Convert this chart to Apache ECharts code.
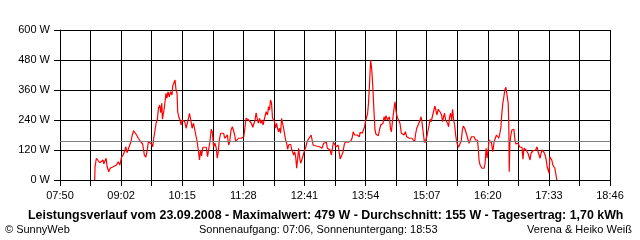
<!DOCTYPE html>
<html>
<head>
<meta charset="utf-8">
<script src="https://cdn.jsdelivr.net/npm/echarts@6/dist/echarts.min.js"></script>
<style>
html,body{margin:0;padding:0;background:#fff;}
#chart{width:640px;height:240px;}
</style>
</head>
<body>
<div id="chart"></div>
<script>
// X-axis tick labels (every second tick is labelled)
const tickLabels = ["07:50","09:02","10:15","11:28","12:41","13:54","15:07","16:20","17:33","18:46"];
const axisStartMinute = 470;   // 07:50
const axisEndMinute = 1126;    // 18:46
const tickCount = 18;
const yTicks = [0, 120, 240, 360, 480, 600];
const averageWatts = 155;

const headline = "Leistungsverlauf vom 23.09.2008 - Maximalwert: 479 W - Durchschnitt: 155 W - Tagesertrag: 1,70 kWh";
const footerLeft = "\u00A9 SunnyWeb";
const footerMid = "Sonnenaufgang: 07:06, Sonnenuntergang: 18:53";
const footerRight = "Verena & Heiko Wei\u00DF";

// [minute of day, power in W]
const powerSamples = [
[511.4,0],[511.8,53],[513.4,87],[515.0,85],[517.4,69],[519.4,67],[521.4,80],[522.2,64],[523.4,67],[525.0,87],
[526.2,53],[528.2,33],[529.8,47],[531.4,40],[533.4,53],[535.4,47],[537.4,60],[539.4,73],[541.4,60],[543.4,91],
[545.4,100],[547.4,120],[548.6,133],[549.8,109],[551.4,123],[553.4,131],[554.6,153],[556.2,180],[557.8,197],[559.4,189],
[561.4,180],[563.4,167],[565.4,157],[567.4,157],[568.6,144],[570.6,100],[572.2,91],[573.8,113],[575.4,153],[577.4,153],
[579.4,144],[580.6,133],[581.8,167],[583.4,200],[584.6,227],[586.2,243],[587.4,287],[589.0,300],[590.2,269],[591.4,307],
[592.2,243],[593.8,243],[594.6,293],
[596.4,347],[597.6,327],[598.8,353],[600.4,333],[602.0,353],[603.6,340],[604.4,376],[606.0,380],[607.2,400],[608.4,360],
[609.6,347],[610.4,273],[611.6,253],[613.2,240],[614.4,220],[615.6,240],[617.2,233],[618.8,233],[620.4,207],[622.0,207],
[622.8,240],[624.4,267],[626.0,240],[627.6,207],[629.2,227],[630.8,200],[632.4,200],[633.6,153],[635.2,113],[636.4,80],
[637.6,120],[638.8,96],[640.4,131],[642.4,131],[644.4,131],[646.0,93],[647.2,120],[648.8,153],[650.4,203],[651.6,193],
[653.2,133],[654.8,147],[656.4,127],[657.6,87],[658.8,113],[660.0,160],[661.6,187],[663.6,187],[665.2,187],[666.4,167],
[668.4,173],[669.6,180],[671.2,140],[672.4,153],[674.0,200],[675.6,213],[677.2,220],[678.4,180],[679.6,153],[681.2,153],
[682.8,167],[684.4,167],[686.0,167],[687.6,160],[689.2,173],
[690.7,213],[691.9,247],[693.5,253],[695.1,240],[696.7,247],[698.3,227],[699.9,211],[701.5,211],[702.7,240],[703.9,269],
[705.5,240],[706.7,227],[707.9,247],[709.5,227],[710.7,240],[712.3,220],[713.5,240],[714.7,240],[715.9,273],[717.5,260],
[718.7,293],[719.9,280],[721.1,320],[722.3,307],[723.5,247],[724.7,240],[725.9,233],[727.1,207],[728.3,227],[729.5,207],
[730.7,193],[731.9,207],[733.1,187],[734.3,247],[735.5,227],[736.7,207],[737.9,200],[739.1,160],[740.3,147],[741.5,123],
[742.7,140],[743.9,133],[745.1,143],[746.3,123],[747.5,127],[748.7,100],[749.9,113],[751.1,93],[752.3,47],[753.5,87],
[754.7,127],[755.9,87],[757.1,67],[758.3,80],[759.5,93],[760.7,100],[761.9,120],[763.1,131],[764.7,153],[766.3,163],
[767.9,160],[769.5,180],[770.7,173],[771.9,140],[773.5,136],[775.5,136],[777.5,133],[779.5,133],[781.1,131],
[782.5,127],[784.5,147],[786.5,143],[787.7,151],[788.9,127],[790.5,133],[792.1,120],[793.7,100],[794.9,127],[796.1,151],
[797.7,151],[799.3,133],[800.5,127],[801.7,140],[802.9,113],[804.1,84],[805.3,84],[806.5,103],[807.7,113],[808.9,140],
[810.5,153],[812.1,147],[813.7,151],[815.3,153],[816.9,156],[818.5,169],[819.7,193],[821.3,180],[822.9,183],[824.5,180],
[825.7,173],[826.9,173],[828.1,191],[829.3,191],[830.5,187],[832.1,193],[833.3,213],[834.5,236],[835.7,240],[836.9,267],
[838.1,313],[839.3,393],[840.5,479],[841.7,447],[842.5,407],[843.3,360],[844.5,273],[845.7,200],[846.9,183],[848.5,183],
[849.7,177],[851.3,204],[852.5,220],[853.7,213],[855.3,227],[856.5,253],[857.7,240],[858.9,257],[860.5,240],[861.7,240],
[862.9,253],[864.1,207],[865.3,193],[866.5,233],[867.7,240],[868.9,300],[869.7,313],[870.5,280],[872.1,253],[873.7,240],
[875.5,227],[877.1,187],[878.7,193],[880.3,180],[881.9,193],[883.5,173],[885.1,167],[886.7,167],[888.3,163],[889.9,167],
[891.5,160],[893.1,153],[893.9,180],[895.5,207],[897.1,220],[898.3,213],[899.5,240],[900.7,253],[901.9,227],[903.1,193],
[904.3,160],[905.5,149],[906.7,153],[907.9,180],[909.1,200],[910.3,220],[911.5,243],[912.7,233],[914.3,240],[915.5,273],
[917.1,296],[918.3,280],[919.5,260],[921.1,283],[922.7,287],[923.9,269],[925.1,260],[926.3,233],[927.5,253],[928.7,267],
[929.9,240],[931.1,240],[932.3,227],[933.5,213],[934.7,253],[935.9,267],[937.1,240],[938.3,283],[939.5,240],[940.7,220],
[941.9,180],[943.1,153],[944.3,140],[945.5,131],[947.5,131],[948.7,160],[949.9,200],[951.1,216],[952.7,207],[954.3,207],
[955.5,176],[956.7,173],[957.9,147],[959.5,153],[960.7,173],[962.3,167],[963.9,173],[965.5,160],[966.7,153],[967.9,160],
[968.6,136],[969.8,80],[971.0,60],[972.2,53],[973.4,47],[974.6,53],[975.8,47],[977.0,67],[978.2,127],[979.4,87],
[980.6,120],[981.8,160],[983.0,153],[984.6,149],[986.2,113],[987.8,153],[989.4,160],[990.6,180],[991.8,187],[993.4,167],
[994.6,163],[995.8,207],[997.0,267],[998.2,307],[999.4,333],[1000.6,360],[1001.8,371],[1003.8,371],[1004.6,307],[1005.4,200],
[1005.8,33],[1006.6,147],[1007.8,180],[1009.0,200],[1010.2,193],[1011.4,203],[1012.6,160],[1013.8,144],[1015.0,136],[1016.2,147],
[1017.4,144],[1018.6,131],[1019.8,136],[1021.0,131],[1022.2,83],[1023.4,127],[1024.6,131],[1025.8,120],[1027.0,117],[1028.2,107],
[1029.4,100],[1030.6,80],[1031.8,107],[1033.0,113],[1034.2,117],[1035.8,113],[1037.4,120],[1039.0,133],[1040.2,113],[1041.4,107],
[1042.6,87],[1043.8,107],[1045.0,120],[1046.2,120],[1047.4,110],[1048.6,100],[1049.8,83],[1051.0,53],[1052.2,40],[1053.4,27],
[1054.2,93],[1055.4,100],[1056.6,80],[1057.8,60],[1059.0,60],[1060.2,47],[1061.4,53],[1062.2,47],[1062.6,0]
];

const minutesPerTick = (axisEndMinute - axisStartMinute) / tickCount;
const fontFamily = "'Liberation Sans', Arial, sans-serif";

const chart = echarts.init(document.getElementById('chart'), null, {renderer: 'canvas'});
chart.setOption({
  animation: false,
  backgroundColor: '#ffffff',
  textStyle: {fontFamily: fontFamily},
  grid: {left: 60, top: 30, width: 550, height: 150, containLabel: false},
  title: [
    {text: headline, left: 28, top: 210, padding: 0,
     textStyle: {fontSize: 12.4, fontWeight: 'bold', color: '#000', fontFamily: fontFamily}},
    {text: footerLeft, left: 5, top: 224, padding: 0,
     textStyle: {fontSize: 11, fontWeight: 'normal', color: '#000', fontFamily: fontFamily}},
    {text: footerMid, left: 199, top: 224, padding: 0,
     textStyle: {fontSize: 11, fontWeight: 'normal', color: '#000', fontFamily: fontFamily}},
    {text: footerRight, right: 8, top: 224, padding: 0,
     textStyle: {fontSize: 11, fontWeight: 'normal', color: '#000', fontFamily: fontFamily}}
  ],
  xAxis: {
    type: 'value', min: 0, max: tickCount, interval: 1,
    axisLine: {show: true, lineStyle: {color: '#000', width: 1}},
    axisTick: {show: true, length: 6, lineStyle: {color: '#000', width: 1}},
    axisLabel: {
      show: true, color: '#000', fontSize: 11, margin: 10, fontFamily: fontFamily,
      showMinLabel: true, showMaxLabel: true, hideOverlap: false,
      formatter: function (v) {
        const i = Math.round(v);
        return (i % 2 === 0) ? tickLabels[i / 2] : '';
      }
    },
    splitLine: {show: true, lineStyle: {color: '#000', width: 1}}
  },
  yAxis: {
    type: 'value', min: yTicks[0], max: yTicks[yTicks.length - 1], interval: yTicks[1] - yTicks[0],
    axisLine: {show: true, lineStyle: {color: '#000', width: 1}},
    axisTick: {show: true, length: 6, lineStyle: {color: '#000', width: 1}},
    axisLabel: {show: true, color: '#000', fontSize: 11, margin: 10, fontFamily: fontFamily,
      formatter: '{value} W'},
    splitLine: {show: true, lineStyle: {color: '#000', width: 1}}
  },
  series: [{
    type: 'line',
    data: powerSamples.map(function (p) { return [(p[0] - axisStartMinute) / minutesPerTick, p[1]]; }),
    showSymbol: false,
    symbol: 'none',
    silent: true,
    lineStyle: {color: '#ff0000', width: 1.2},
    itemStyle: {color: '#ff0000'},
    markLine: {
      silent: true,
      symbol: ['none', 'none'],
      label: {show: false},
      lineStyle: {color: '#808080', type: 'solid', width: 1},
      data: [{yAxis: averageWatts}]
    }
  }]
});
</script>
</body>
</html>
